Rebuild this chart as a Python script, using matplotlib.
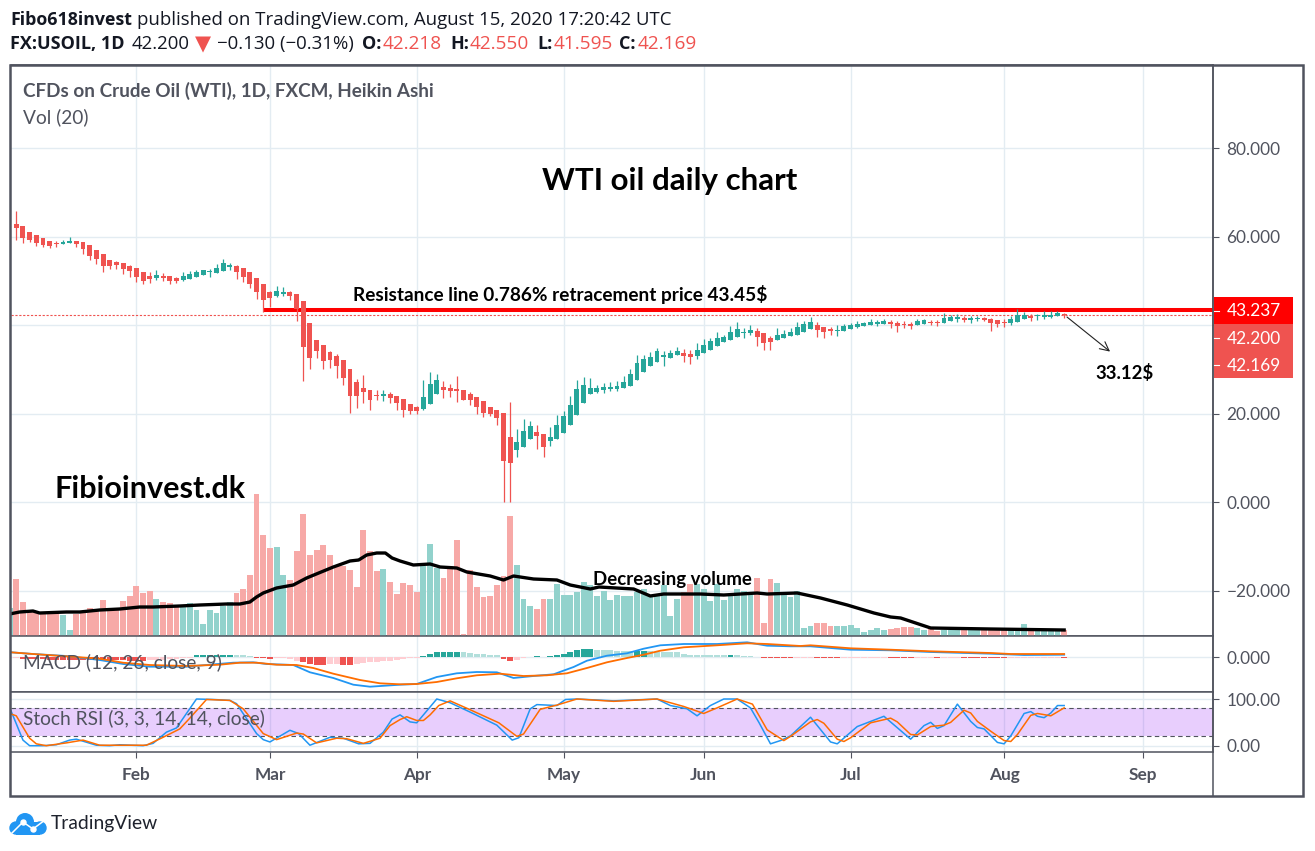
import matplotlib
matplotlib.use("Agg")
import matplotlib.pyplot as plt
from matplotlib.lines import Line2D
from matplotlib.patches import Circle, Rectangle
import numpy as np

W, H = 1315, 851

plt.rcParams["font.family"] = ["Lato", "DejaVu Sans"]

# Heikin Ashi bars, first one sits just off the left edge
ha_open = [62.5, 62.8, 62.4, 61.0, 60.3, 59.7, 59.0, 58.5, 58.3, 58.5,
           59.0, 58.8, 58.1, 56.9, 56.0, 54.7, 54.2, 54.0, 53.3, 52.9,
           52.0, 51.1, 50.6, 51.1, 51.1, 50.6, 50.2, 50.4, 50.8, 51.3,
           51.9, 51.8, 52.2, 53.1, 53.3, 52.9, 52.0, 50.6, 49.3, 47.5,
           46.6, 47.0, 47.5, 47.0, 45.4, 40.5, 36.6, 35.5, 33.9, 33.0,
           32.1, 30.1, 27.1, 25.8, 25.3, 24.2, 24.0, 24.4, 24.0, 23.3,
           22.1, 21.5, 21.0, 22.1, 24.4, 26.0, 25.8, 25.5, 25.3, 24.4,
           23.7, 22.8, 21.5, 20.8, 20.1, 14.7, 11.8, 12.4, 14.2, 15.8,
           15.4, 13.8, 14.2, 15.6, 17.4, 19.7, 22.4, 24.4, 24.9, 25.3,
           25.5, 25.5, 25.8, 26.2, 27.6, 29.4, 30.7, 31.6, 32.8, 32.6,
           33.2, 33.7, 33.4, 33.0, 33.7, 34.4, 35.3, 36.2, 36.6, 37.3,
           38.2, 38.2, 38.6, 38.2, 37.1, 36.6, 37.1, 37.5, 37.7, 38.4,
           39.1, 40.0, 39.5, 39.1, 38.7, 38.6, 39.1, 39.5, 39.8, 40.0,
           40.2, 40.2, 40.7, 40.5, 40.2, 40.2, 40.0, 40.2, 40.7, 40.7,
           40.5, 40.9, 41.4, 41.6, 41.1, 41.4, 41.6, 41.4, 41.1, 40.7,
           40.5, 40.7, 41.4, 42.0, 42.0, 41.8, 41.8, 42.0, 42.5]
ha_close = [62.7, 61.9, 59.7, 59.2, 58.5, 58.1, 57.9, 58.4, 58.8, 59.0,
            58.3, 57.2, 55.6, 54.9, 53.3, 53.3, 53.6, 52.7, 52.2, 50.8,
            49.9, 50.4, 51.3, 50.6, 49.9, 49.9, 51.1, 51.5, 52.0, 52.4,
            52.1, 52.9, 54.0, 53.6, 52.0, 50.8, 49.3, 47.5, 45.7, 46.1,
            47.7, 47.5, 46.6, 43.6, 35.0, 32.5, 34.1, 31.9, 32.1, 30.7,
            28.0, 24.0, 24.0, 24.9, 23.1, 24.0, 24.4, 23.5, 22.4, 20.8,
            20.6, 20.6, 23.7, 26.7, 27.6, 25.3, 25.1, 25.1, 23.1, 23.1,
            21.5, 20.1, 19.9, 19.0, 9.3, 8.8, 13.6, 16.0, 17.2, 14.9,
            12.4, 14.7, 17.4, 19.4, 21.9, 25.5, 26.4, 25.8, 25.8, 26.0,
            26.0, 26.2, 27.1, 28.9, 31.4, 32.3, 32.8, 34.1, 33.2, 33.7,
            34.1, 33.0, 32.8, 34.4, 35.5, 36.4, 37.1, 37.3, 38.4, 39.1,
            38.4, 38.9, 37.3, 35.9, 36.2, 37.7, 38.0, 38.4, 39.5, 40.2,
            40.7, 38.9, 38.4, 38.6, 38.9, 39.8, 40.0, 40.2, 40.5, 40.7,
            40.7, 40.9, 40.2, 39.8, 40.0, 39.8, 40.9, 41.1, 40.5, 40.5,
            41.6, 41.8, 41.8, 41.1, 41.6, 41.6, 41.1, 40.5, 40.2, 40.5,
            41.4, 42.3, 42.3, 41.6, 42.2, 42.2, 42.2, 42.7, 42.2]
ha_high = [62.7, 65.8, 62.4, 61.0, 60.3, 59.7, 59.0, 59.0, 59.2, 59.9,
           59.0, 58.8, 58.1, 56.9, 56.0, 54.7, 54.5, 54.0, 53.6, 52.9,
           52.0, 52.0, 52.4, 51.8, 51.1, 50.8, 52.0, 52.2, 52.4, 52.4,
           52.7, 53.8, 54.9, 54.0, 53.6, 52.9, 52.0, 50.6, 49.3, 47.6,
           48.8, 48.6, 47.7, 47.0, 45.4, 40.5, 36.6, 35.5, 34.1, 33.4,
           32.1, 30.1, 27.8, 28.7, 25.3, 25.3, 25.3, 24.9, 24.0, 23.3,
           22.1, 21.7, 27.6, 29.4, 28.9, 27.3, 26.7, 28.5, 25.3, 24.9,
           23.7, 22.8, 21.5, 20.8, 20.1, 22.6, 16.5, 18.8, 18.3, 17.4,
           15.4, 16.9, 19.7, 20.6, 24.0, 27.6, 28.2, 28.0, 26.4, 26.9,
           27.1, 27.3, 28.5, 30.1, 33.2, 33.2, 33.9, 34.8, 34.1, 34.4,
           35.0, 34.6, 34.4, 35.9, 36.8, 37.1, 38.4, 37.7, 39.8, 40.7,
           39.3, 40.0, 39.3, 38.2, 37.5, 39.3, 38.9, 39.3, 40.7, 40.9,
           41.8, 40.7, 39.5, 39.5, 40.0, 40.2, 40.5, 40.9, 40.7, 41.4,
           41.1, 41.4, 41.1, 40.9, 40.9, 40.7, 41.4, 41.4, 41.1, 41.1,
           42.7, 42.3, 42.5, 42.0, 42.0, 42.0, 41.8, 41.6, 41.1, 41.4,
           42.0, 43.6, 42.9, 42.5, 42.5, 43.2, 43.2, 43.2, 42.7]
ha_low = [62.5, 59.2, 58.5, 58.8, 57.9, 57.6, 57.4, 57.6, 58.3, 58.5,
          57.6, 56.0, 54.7, 53.8, 52.0, 52.7, 52.7, 51.5, 50.8, 49.7,
          49.3, 49.5, 50.2, 49.9, 49.3, 49.5, 49.9, 50.4, 50.8, 51.3,
          50.8, 51.8, 52.2, 52.4, 50.4, 49.7, 48.4, 45.9, 42.9, 44.1,
          46.3, 46.6, 45.6, 40.9, 27.3, 30.1, 32.5, 30.1, 30.3, 28.0,
          26.4, 20.1, 21.2, 22.4, 20.8, 23.1, 22.8, 22.4, 20.8, 19.2,
          19.9, 19.9, 20.8, 22.1, 24.4, 23.5, 23.7, 22.6, 23.1, 21.9,
          19.9, 19.2, 19.4, 17.4, 0.1, 0.1, 10.2, 12.4, 14.2, 12.0,
          10.2, 12.7, 14.2, 15.6, 17.4, 19.7, 22.4, 24.4, 24.6, 24.6,
          25.1, 25.1, 25.8, 26.2, 27.6, 29.4, 30.7, 31.6, 30.7, 32.6,
          33.2, 31.6, 31.2, 32.3, 33.7, 34.4, 35.3, 36.2, 36.6, 37.3,
          37.1, 37.7, 35.3, 34.4, 34.4, 36.6, 37.1, 37.5, 37.7, 38.4,
          39.1, 37.3, 37.1, 37.7, 37.5, 38.6, 39.1, 39.3, 39.8, 40.0,
          39.8, 40.2, 39.3, 38.4, 39.3, 39.1, 40.0, 40.2, 40.0, 39.8,
          40.5, 40.9, 40.7, 40.7, 40.5, 40.9, 40.9, 38.6, 39.5, 39.5,
          40.0, 40.7, 41.4, 40.9, 41.1, 41.4, 41.6, 42.0, 41.6]

# volume, arbitrary units (only the relative height can be read)
volume = [28, 57, 34, 25, 25, 24, 24, 24, 21, 6,
          22, 24, 28, 25, 36, 26, 28, 35, 40, 50,
          43, 45, 37, 34, 33, 30, 30, 33, 26, 12,
          26, 23, 30, 34, 43, 47, 61, 142, 101, 88,
          89, 61, 56, 85, 122, 81, 86, 91, 81, 71,
          70, 66, 49, 106, 85, 65, 67, 54, 42,
          53, 51, 44, 70, 92, 68, 58, 70, 96, 2,
          66, 49, 39, 40, 51, 60, 120, 71, 37, 30,
          27, 37, 37, 52, 41, 41, 44, 54, 51, 40,
          45, 36, 41, 40, 40, 44, 47, 41, 40, 51,
          20, 37, 44, 52, 52, 47, 35, 52, 36, 40,
          47, 45, 44, 58, 13, 57, 53, 41, 39, 45,
          8, 10, 13, 13, 10, 10, 10, 11, 8, 4,
          6, 8, 6, 7, 8, 9, 9, 8, 6, 7,
          5, 6, 6, 6, 6, 6, 6, 6, 6, 6,
          6, 6, 6, 12, 6, 6, 6, 6, 6, 6]
volume_dir = ("g" "rrrrrrr" "gg" "rrrrrrrrrrrr" "g" "rrr" "gggggggg" "rrrrrr" "gg"
              "rrrrrrrrrrrrrr" "g" "rrrrr" "ggg" "rrrrrrrrrrr" "ggg" "rr"
              "gggggggggggggggggggg" "rr" "ggggggggg" "rrr" "gggggg" "rrr"
              "gggggggg" "rrrr" "gg" "rr" "ggg" "r" "gg" "rrrr" "ggg" "r" "gggg" "r")

vol_ma_x = [-1, 0.5, 2.5, 3.5, 7.5, 9.5, 12.5, 15.5, 18.5, 20.5, 24.5, 27.5, 31.5, 33.5, 35,
            36, 37, 39, 41.5, 43.5, 47.5, 50, 51.3, 52.5, 54, 55.3, 56.3, 57.5, 59.5, 62,
            63.5, 66, 67.5, 71, 73, 74.5, 77.5, 81, 83, 86, 87.3, 92.5, 95, 97, 102.5,
            106, 111, 112.5, 117, 120.5, 124.5, 128.5, 131, 132.5, 137, 146, 157]
vol_ma = [22, 24, 25, 23, 24, 24, 26, 27, 29, 29, 30, 31, 32, 32, 34,
          39, 43, 48, 51, 58, 69, 75, 76, 81, 83, 83, 78, 75, 71, 72,
          69, 68, 64, 60, 56, 60, 57, 56, 51, 47, 49, 47, 40, 42, 42,
          41, 43, 42, 43, 38, 31, 23, 19, 18, 8, 7, 6]

# MACD histogram, scale unknown since only 0.000 is labelled
macd_hist = [-0.5, -2, -1.5, -2, -2, -2.5, -2.5, -2.5, -2.5, -3,
             -3, -3, -3, -2.5, -3, -3, -3, -3.5, -4, -3.7,
             -3, -2.5, -2.5, -2, -1.5, -1, -0.5, 2, 2, 2,
             2, 2.5, 2.5, 2.5, 2, 1.5, -0.5, -0.8, -1.5, -1,
             -1, -1.5, -4, -5, -7, -7.5, -7.5, -6.5, -6.5, -7.5,
             -7.5, -6.5, -6, -5, -5, -4, -3.5, -2.5, -1.5, -1,
             -0.5, 1.5, 3.5, 5.5, 5.5, 5.5, 5.5, 5, 4.5, 3.5,
             3.5, 2.5, 2.5, -2, -3.5, -2.5, -1, 0.5, 1, 0.3,
             1.3, 2, 3, 5, 7, 8, 8, 7.5, 7, 7,
             6, 6, 6.5, 6.5, 6.5, 6, 5.5, 5.5, 5.5, 5,
             3.5, 2.5, 2.5, 2.5, 2.5, 2.5, 2.5, 2.5, 2.5, 1.5,
             1.3, 0.5, -1, -1, -1, -1, -1, -1, -0.8, -0.5,
             -1.2, -1.2, -1.2, -1.2, -1, -1, -1, -1, -1, -1,
             -1, -1.2, -1.2, -1.2, -1.2, -1, -1, -1, -1.2, -1,
             -0.5, -0.5, -0.8, -0.8, -0.8, -1.2, -1.2, -1.2, -1.2, -0.8,
             -0.6, -0.5, -0.5, -0.5, -0.5, -0.5, -0.5, -1]
# d dark red, p pink, t teal, l light teal
macd_kind = ("p" "ddddddddddddddddddd" "ppppppp" "tttttt" "lll" "ddd" "pppp" "dddd" "pp" "dd"
             "pppppppppp" "tttttt" "llllll" "dd" "pp" "tt" "l" "ttttttt" "llllll" "tt"
             "llllllllllll" "t" "llll" "ddddd" "ppp" "dddd" "ppppppp" "dddd" "ppp" "d"
             "ppp" "ddddddd" "pppppppp" "d")

macd_x = [-0.8, 2.5, 7.5, 12.5, 16, 20, 25.5, 29, 32.5, 35.5, 37.5, 41.5, 44, 47.5, 50.5,
          53, 57.5, 60, 63, 66, 69, 72, 74.5, 77.5, 80.5, 83.5, 85.5, 88.5, 91.5, 94,
          96.5, 100, 105, 109.5, 112.5, 116, 119, 125, 131, 137, 146, 151, 157]
macd_line = [4.7, 3, 1, -3, -7, -9.7, -9.7, -7.7, -5.7, -5.3, -7, -8, -15.3, -21, -27.7,
             -29.7, -27.7, -27, -20, -16.3, -15, -15.3, -21, -19, -17.3, -10, -3.7, 1.3, 3.7, 8.3,
             11.7, 13, 13, 14.7, 11.3, 10.7, 10.7, 7.3, 6.7, 5, 3.3, 2, 2.3]
signal_x = [-0.8, 2.5, 7.5, 12.5, 16, 20, 25.5, 30.5, 33.5, 36, 39, 42, 44.5, 47.5, 51.5,
            54.5, 57.5, 60, 63, 66, 69, 72.5, 76, 79.5, 82.5, 85.5, 88.5, 91.5, 94, 96.5,
            100, 105, 109.5, 112.5, 117.5, 119, 125, 131, 137, 146, 149, 157]
signal_line = [4.7, 3, 0.7, -1.7, -5.7, -8, -9, -7.7, -5.7, -5.7, -7.7, -8, -11, -16.7, -23,
               -26.3, -27.3, -27, -25, -21.3, -18.3, -16.7, -19, -18.3, -16.3, -11, -5.3, -1, 2.3, 6.3,
               9.7, 11.7, 13.7, 13, 11, 11.7, 8.7, 7.3, 5.7, 4, 3, 3]

# Stoch RSI
stoch_k_x = [-0.8, 1, 2, 4, 6, 8, 9, 12, 14, 15.5, 19, 20.5, 22.5, 24, 27, 29.5, 32, 33, 36, 37, 38,
             41, 42.3, 44, 47, 49, 51.3, 53, 55, 56.3, 57.5, 59, 60, 63, 65, 68, 72, 74.3, 75.3,
             77, 78, 81, 82.3, 84, 89.5, 96, 98, 100.5, 102, 104, 106, 108, 110, 111.3, 113, 114.5,
             116, 119, 122, 123, 126, 130, 134, 136, 137, 138, 139, 141, 143, 144, 145, 147, 148,
             149, 151, 152, 153, 154, 155, 156, 157]
stoch_k = [75, 12, 0, 0, 2, 12, 14, 1, 0, 2, 0, 5, 29, 38, 100, 99, 97, 90, 26, 13, 8,
           33, 26, 1, 18, 16, 4, 5, 29, 57, 66, 51, 49, 100, 92, 72, 44, 12, 17,
           79, 88, 86, 99, 100, 96, 100, 86, 79, 64, 86, 100, 100, 81, 49, 4, 11,
           21, 61, 8, 4, 41, 63, 14, 43, 50, 37, 43, 89, 52, 39, 36, 7, 4,
           21, 69, 73, 63, 60, 70, 86, 86]
stoch_d_x = [-0.8, 0, 2, 3, 4.5, 7.5, 10, 12.5, 15, 19.5, 22, 24.5, 26, 28.5, 32, 34, 37, 39, 42, 43,
             45, 48, 49.5, 52, 54.5, 56, 57.5, 58.5, 60, 61, 62, 63.3, 65, 68, 72.3, 75, 76, 78.5,
             81, 84, 89.5, 96, 100, 103, 105, 108, 110.3, 112.5, 115, 116, 119, 120, 121, 123, 124,
             125, 128, 131, 132, 134, 135, 137, 139, 140, 142, 143, 144, 146, 148, 149, 150, 152,
             153, 155, 157]
stoch_d = [68, 64, 16, 4, 0, 6, 12, 1, 1, 1, 18, 36, 59, 99, 97, 79, 26, 13, 27, 25,
           6, 16, 15, 5, 16, 43, 56, 62, 54, 54, 66, 86, 96, 77, 49, 20, 25, 78,
           87, 100, 95, 100, 84, 69, 81, 100, 89, 34, 11, 20, 51, 56, 48, 14, 9,
           17, 49, 59, 51, 24, 23, 41, 44, 50, 76, 70, 52, 31, 11, 9, 24, 65,
           69, 64, 81]

month_ticks = [18, 38, 60, 82, 103, 125, 148, 168.75]
month_labels = ["Feb", "Mar", "Apr", "May", "Jun", "Jul", "Aug", "Sep"]
price_ticks = [80, 60, 40, 20, 0, -20]
# the 40.000 label is hidden behind the price boxes
price_labels = ["80.000", "60.000", "", "20.000", "0.000", "\u221220.000"]
resistance = 43.3
last_price = 42.2

UP = "#26a69a"
DOWN = "#ef5350"
UP_VOL = "#92d2cc"
DOWN_VOL = "#f7a9a7"
GRID = "#e3ecf2"
FRAME = "#50535e"
HIST_COL = {"d": "#ef5350", "p": "#ffcdd2", "t": "#26a69a", "l": "#b2dfdb"}
LOGO = "#2196f3"
TICK_SIZE = 12.4
NOTE_SIZE = 13.4


def fx(px):
    return px / W


def fy(py):
    return 1 - py / H


def panel(top, bottom, ylim):
    ax = fig.add_axes([fx(11), fy(bottom), fx(1213) - fx(11), fy(top) - fy(bottom)])
    ax.set_xlim(-0.79, 179.3)
    ax.set_ylim(*ylim)
    ax.set_xticks(month_ticks)
    ax.grid(True, axis="both", color=GRID, linewidth=1.0)
    ax.set_axisbelow(True)
    ax.tick_params(axis="x", length=0, labelbottom=False)
    ax.yaxis.tick_right()
    ax.tick_params(axis="y", colors=FRAME, length=4.3, width=0.8, pad=5.5, labelsize=TICK_SIZE)
    for s in ax.spines.values():
        s.set_color(FRAME)
        s.set_linewidth(1.1)
    ax.spines["left"].set_visible(False)
    return ax


def put(px, py, s, **kw):
    kw.setdefault("color", "#131722")
    kw.setdefault("va", "center")
    return fig.text(fx(px), fy(py), s, **kw)


fig = plt.figure(figsize=(W / 100, H / 100), dpi=100)

idx = np.arange(-1, 158)
ha_open = np.array(ha_open)
ha_close = np.array(ha_close)
ha_high = np.array(ha_high)
ha_low = np.array(ha_low)

# price panel
ax = panel(65, 636, (-30.28, 98.76))
ax.set_yticks(price_ticks)
ax.set_yticklabels(price_labels)

# volume goes on its own scale over the same area
ax_vol = fig.add_axes(ax.get_position(), sharex=ax)
ax_vol.set_ylim(0, 571)
ax_vol.patch.set_alpha(0)
ax_vol.axis("off")
ax_vol.bar(idx, volume, width=0.88,
           color=[UP_VOL if d == "g" else DOWN_VOL for d in volume_dir], linewidth=0)
ax_vol.plot(vol_ma_x, vol_ma, color="black", linewidth=2.4, solid_joinstyle="round")

ax_c = fig.add_axes(ax.get_position(), sharex=ax)
ax_c.set_ylim(-30.28, 98.76)
ax_c.patch.set_alpha(0)
ax_c.axis("off")
colors = [UP if c >= o else DOWN for o, c in zip(ha_open, ha_close)]
ax_c.plot([36.96, 179.3], [resistance, resistance], color="#ff0000", linewidth=2.9,
          solid_capstyle="butt", zorder=1)
ax_c.axhline(last_price, color=DOWN, linewidth=0.8, linestyle=(0, (2, 1.5)), zorder=1)
ax_c.vlines(idx, ha_low, ha_high, colors=colors, linewidth=0.9, zorder=2)
ax_c.bar(idx, np.abs(ha_close - ha_open), bottom=np.minimum(ha_open, ha_close),
         width=0.74, color=colors, linewidth=0, zorder=3)
# hand drawn projection arrow
ax_c.annotate("", xy=(164.2, 33.6), xytext=(157.1, 42.2),
              arrowprops=dict(arrowstyle="->", color="#222222", lw=0.8, mutation_scale=16))

# MACD panel
ax_m = panel(636, 692, (-35, 21))
ax_m.set_yticks([0])
ax_m.set_yticklabels(["0.000"])
ax_m.bar(np.arange(158), macd_hist, width=0.88, color=[HIST_COL[k] for k in macd_kind], linewidth=0)
ax_m.plot(macd_x, macd_line, color="#2196f3", linewidth=1.3)
ax_m.plot(signal_x, signal_line, color="#ff6d00", linewidth=1.3)

# Stoch RSI panel
ax_s = panel(692, 752, (-13.5, 115))
ax_s.set_yticks([100, 0])
ax_s.set_yticklabels(["100.00", "0.00"])
ax_s.axhspan(20, 80, color="#8f0bf7", alpha=0.2, linewidth=0)
ax_s.axhline(80, color=FRAME, linewidth=0.8, linestyle=(0, (4, 3)))
ax_s.axhline(20, color=FRAME, linewidth=0.8, linestyle=(0, (4, 3)))
ax_s.plot(stoch_k_x, stoch_k, color="#2196f3", linewidth=1.1)
ax_s.plot(stoch_d_x, stoch_d, color="#ff6d00", linewidth=1.1)
ax_s.set_xticklabels(month_labels, fontweight="bold")
ax_s.tick_params(axis="x", length=4, width=0.8, color=FRAME, labelbottom=True,
                 labelcolor=FRAME, labelsize=TICK_SIZE, pad=7)

# outer frame
fig.add_artist(Rectangle((fx(10), fy(796)), fx(1303) - fx(10), fy(65) - fy(796),
                         transform=fig.transFigure, fill=False, edgecolor=FRAME, linewidth=1.8))
fig.add_artist(Line2D([fx(1213)] * 2, [fy(65), fy(796)], color=FRAME, linewidth=1.1))

# price labels on the axis
fig.add_artist(Rectangle((fx(1214), fy(324)), fx(79), 27 / H, transform=fig.transFigure,
                         facecolor="#ff0000", linewidth=0))
fig.add_artist(Rectangle((fx(1214), fy(378)), fx(79), 54 / H, transform=fig.transFigure,
                         facecolor=DOWN, linewidth=0))
for py, lab in [(310.5, "43.237"), (337.5, "42.200"), (364.5, "42.169")]:
    put(1227, py + 1, lab, color="white", fontsize=TICK_SIZE)
    fig.add_artist(Line2D([fx(1214), fx(1219)], [fy(py)] * 2, color="white", linewidth=0.8))

# chart texts
put(23, 91, "CFDs on Crude Oil (WTI), 1D, FXCM, Heikin Ashi", color=FRAME, fontsize=13.6, fontweight="bold")
put(23, 117, "Vol (20)", color=FRAME, fontsize=13.8)
put(23, 662, "MACD (12, 26, close, 9)", color=FRAME, fontsize=13.8)
put(23, 718, "Stoch RSI (3, 3, 14, 14, close)", color=FRAME, fontsize=13.8)
put(542, 181, "WTI oil daily chart", color="black", fontsize=22.5, fontweight="bold")
put(55, 489, "Fibioinvest.dk", color="black", fontsize=22, fontweight="bold")
put(353, 294, "Resistance line 0.786% retracement price 43.45$", color="black", fontsize=13.7, fontweight="bold")
put(593, 580, "Decreasing volume", color="black", fontsize=NOTE_SIZE, fontweight="bold")
put(1095, 373, "33.12$", color="black", fontsize=NOTE_SIZE, fontweight="bold")

# header
HEAD = ["Open Sans", "DejaVu Sans"]
put(10, 20, "Fibo618invest", family=HEAD, fontsize=12.8, fontweight="bold")
put(137, 20, "published on TradingView.com, August 15, 2020 17:20:42 UTC", family=HEAD, fontsize=13.4)
put(10, 44, "FX:USOIL, 1D", family=HEAD, fontsize=13, fontweight="bold")
put(132, 44, "42.200", family=HEAD, fontsize=13.4)
put(195, 44, "\u25bc", family="DejaVu Sans", fontsize=15, color=DOWN)
put(217, 44, "\u22120.130 (\u22120.31%)", family=HEAD, fontsize=13.4)
for px, lab in [(362, "O:"), (450, "H:"), (537, "L:"), (619, "C:")]:
    put(px, 44, lab, family=HEAD, fontsize=13, fontweight="bold")
for px, lab in [(383, "42.218"), (470, "42.550"), (554, "41.595"), (638, "42.169")]:
    put(px, 44, lab, family=HEAD, fontsize=13.7, color=DOWN)

# footer logo, drawn in pixel coordinates
ax_logo = fig.add_axes([0, 0, 1, 1], zorder=-1)
ax_logo.set_xlim(0, W)
ax_logo.set_ylim(H, 0)
ax_logo.axis("off")
for cx, cy, r in [(16, 828, 6.7), (25, 822, 9), (40, 828, 6.7)]:
    ax_logo.add_patch(Circle((cx, cy), r, color=LOGO, linewidth=0))
ax_logo.add_patch(Rectangle((16, 822), 24, 12.7, color=LOGO, linewidth=0))
ax_logo.plot([12, 23, 33, 45], [833, 822, 829, 820], color="white", linewidth=1.1)
ax_logo.plot([23, 33], [822, 829], "o", color="white", markersize=3.6)
put(51, 824, "TradingView", color="#1e222d", fontsize=13.9)

fig.savefig("out.png", dpi=100)
